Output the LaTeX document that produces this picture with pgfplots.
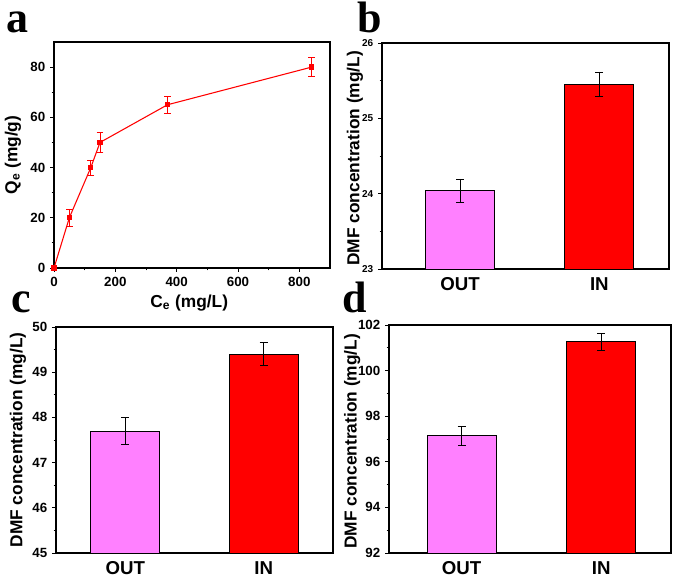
\documentclass[border=0pt]{standalone}
\usepackage{fontspec}
\setmainfont{Liberation Sans}
\newfontfamily\tnr{Liberation Serif}
\usepackage{pgfplots}
\pgfplotsset{compat=1.18}

\definecolor{outpink}{RGB}{255,128,255}
\definecolor{inred}{RGB}{255,0,0}

\pgfplotsset{
  panel/.style={
    scale only axis, anchor=south west,
    tick align=outside, xtick pos=left, ytick pos=left,
    major tick length=3pt, minor tick length=1.8pt,
    axis line style={line width=0.8pt},
    every tick/.style={black, line width=0.7pt},
    /pgf/number format/assume math mode=true,
    tick label style={font=\bfseries\fontsize{10}{12}\selectfont},
    label style={font=\bfseries\fontsize{13}{15}\selectfont},
  },
  barpanel/.style={
    panel, ybar, bar width=51.75pt,
    xtick={0,1}, xticklabels={OUT,IN},
    x tick label style={font=\bfseries\fontsize{14}{16}\selectfont},
    major x tick style={draw=none},
    minor y tick num=1,
    ylabel={DMF concentration (mg/L)},
    error bars/error bar style={black, line width=0.6pt},
    error bars/error mark options={black, rotate=90, mark size=3pt, line width=0.6pt},
  },
}

\begin{document}
\begin{tikzpicture}
\useasboundingbox (0,0) rectangle (506.25pt,435pt);

% a: adsorption isotherm
\begin{axis}[panel, at={(40.5pt,234pt)}, width=207pt, height=169.5pt,
    xmin=0, xmax=900, ymin=0, ymax=90,
    xtick={0,200,...,800}, ytick={0,20,...,80},
    minor x tick num=1, minor y tick num=1,
    xlabel={C\textsubscript{e} (mg/L)},
    ylabel={Q\textsubscript{e} (mg/g)},
    xlabel style={at={(axis description cs:0.49,-0.155)}, anchor=center},
    ylabel style={at={(axis description cs:-0.149,0.5)}, anchor=center},
  ]
  \addplot[red, line width=0.8pt, mark=square*, mark size=1.6pt,
    error bars/.cd, y dir=both, y explicit,
    error bar style={red, line width=0.6pt},
    error mark options={red, rotate=90, mark size=2.5pt, line width=0.6pt}]
  coordinates {
    (0,0) +- (0,0)
    (50,20) +- (0,3.4)
    (120,40) +- (0,3.0)
    (150,50) +- (0,3.8)
    (370,65) +- (0,3.3)
    (840,80) +- (0,3.8)
  };
\end{axis}

% b
\begin{axis}[barpanel, at={(286.5pt,233.25pt)}, width=215.25pt, height=169.5pt,
    xmin=-0.56, xmax=1.5, ymin=23, ymax=26, ytick={23,24,25,26},
    y tick label style={font=\bfseries\fontsize{7.5}{9}\selectfont},
    ylabel style={at={(axis description cs:-0.094,0.49)}, anchor=center},
  ]
  \addplot[fill=outpink, draw=black, line width=0.6pt, bar shift=0pt,
    error bars/.cd, y dir=both, y explicit]
    coordinates {(0,24.04) +- (0,0.155)};
  \addplot[fill=inred, draw=black, line width=0.6pt, bar shift=0pt,
    error bars/.cd, y dir=both, y explicit]
    coordinates {(1,25.45) +- (0,0.165)};
\end{axis}

% c
\begin{axis}[barpanel, at={(42pt,20.25pt)}, width=207.75pt, height=169.5pt,
    xmin=-0.5, xmax=1.5, ymin=45, ymax=50, ytick={45,...,50},
    ylabel style={at={(axis description cs:-0.137,0.5)}, anchor=center},
  ]
  \addplot[fill=outpink, draw=black, line width=0.6pt, bar shift=0pt,
    error bars/.cd, y dir=both, y explicit]
    coordinates {(0,47.7) +- (0,0.3)};
  \addplot[fill=inred, draw=black, line width=0.6pt, bar shift=0pt,
    error bars/.cd, y dir=both, y explicit]
    coordinates {(1,49.4) +- (0,0.25)};
\end{axis}

% d
\begin{axis}[barpanel, at={(291.75pt,20.25pt)}, width=211.5pt, height=171pt,
    xmin=-0.52, xmax=1.5, ymin=92, ymax=102, ytick={92,94,...,102},
    ylabel style={at={(axis description cs:-0.131,0.49)}, anchor=center},
  ]
  \addplot[fill=outpink, draw=black, line width=0.6pt, bar shift=0pt,
    error bars/.cd, y dir=both, y explicit]
    coordinates {(0,97.15) +- (0,0.41)};
  \addplot[fill=inred, draw=black, line width=0.6pt, bar shift=0pt,
    error bars/.cd, y dir=both, y explicit]
    coordinates {(1,101.27) +- (0,0.37)};
\end{axis}

\node[anchor=base west, inner sep=0pt, font=\tnr\bfseries\fontsize{33}{33}\selectfont] at (4.5pt,410.25pt) {a};
\node[anchor=base west, inner sep=0pt, font=\tnr\bfseries\fontsize{33}{33}\selectfont] at (267.75pt,410.25pt) {b};
\node[anchor=base west, inner sep=0pt, font=\tnr\bfseries\fontsize{33}{33}\selectfont] at (8.25pt,200.25pt) {c};
\node[anchor=base west, inner sep=0pt, font=\tnr\bfseries\fontsize{33}{33}\selectfont] at (256.5pt,200.25pt) {d};
\end{tikzpicture}
\end{document}
